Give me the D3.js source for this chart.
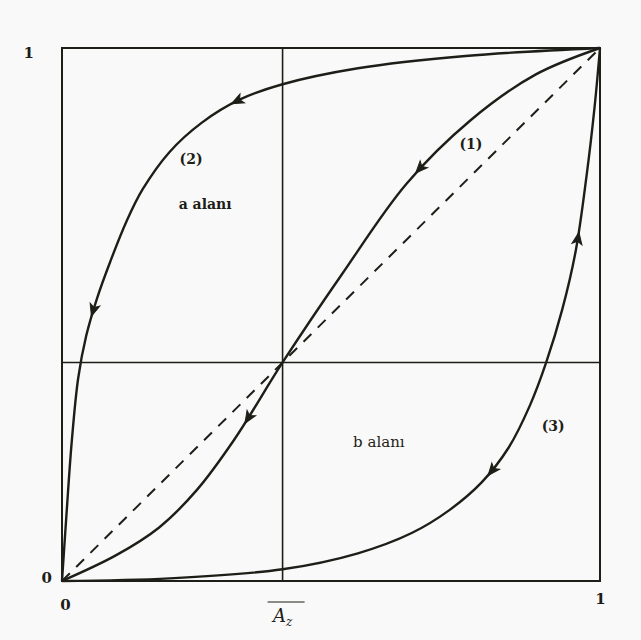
<!DOCTYPE html>
<html>
<head>
<meta charset="utf-8">
<script src="https://cdn.jsdelivr.net/npm/d3@7"></script>
<style>
  html, body { margin: 0; padding: 0; background: #f9f9f9; }
  svg { display: block; }
</style>
</head>
<body>
<svg id="chart" width="641" height="640"></svg>
<script>
// Tick values on both axes and the threshold value A_z
const xTickValues = [0, 1];
const yTickValues = [0, 1];
const aZ = 0.41;

// Curve (1): S-shaped, through the threshold point
const curve1X = [0, 0.10, 0.18, 0.25, 0.32, 0.41, 0.52, 0.64, 0.76, 0.88, 1];
const curve1Y = [0, 0.048, 0.10, 0.17, 0.265, 0.41, 0.575, 0.745, 0.865, 0.95, 1];

// Curve (2): bulging towards the upper-left (a alanı)
const curve2X = [0, 0.008, 0.018, 0.03, 0.045, 0.065, 0.09, 0.12, 0.15, 0.20, 0.26, 0.33, 0.41, 0.55, 0.75, 1];
const curve2Y = [0, 0.12, 0.26, 0.38, 0.46, 0.53, 0.60, 0.675, 0.735, 0.805, 0.86, 0.903, 0.932, 0.962, 0.985, 1];

// Curve (3): bulging towards the lower-right (b alanı)
const curve3X = [0, 0.2, 0.41, 0.55, 0.65, 0.72, 0.78, 0.83, 0.87, 0.90, 0.93, 0.955, 0.975, 0.99, 1];
const curve3Y = [0, 0.005, 0.022, 0.052, 0.09, 0.133, 0.185, 0.25, 0.33, 0.41, 0.51, 0.62, 0.76, 0.89, 1];

// Arrowheads: which curve, the x where they sit, and the direction (towards the end or back to the origin)
const arrowCurve = [1, 1, 2, 2, 3, 3];
const arrowAtX   = [0.346, 0.665, 0.058, 0.325, 0.799, 0.959];
const arrowDir   = ["back", "back", "back", "back", "back", "forward"];

// Text inside the plot
const noteText = ["(2)", "a alanı", "(1)", "b alanı", "(3)"];
const noteX    = [0.24, 0.266, 0.76, 0.589, 0.913];
const noteY    = [0.79, 0.705, 0.818, 0.259, 0.289];
const noteBold = [true, true, true, false, true];

(function draw() {
  const svg = d3.select("#chart");
  const mLeft = 62, mRight = 600, mTop = 48, mBottom = 581;
  const ink = "#1e1e18";
  const serif = "DejaVu Serif, Liberation Serif, serif";

  const x = d3.scaleLinear().domain([0, 1]).range([mLeft, mRight]);
  const y = d3.scaleLinear().domain([0, 1]).range([mBottom, mTop]);

  // Frame
  svg.append("rect")
    .attr("x", x(0)).attr("y", y(1))
    .attr("width", x(1) - x(0)).attr("height", y(0) - y(1))
    .attr("fill", "none").attr("stroke", ink).attr("stroke-width", 2);

  // Threshold cross-lines
  svg.append("line")
    .attr("x1", x(aZ)).attr("x2", x(aZ)).attr("y1", y(0)).attr("y2", y(1))
    .attr("stroke", ink).attr("stroke-width", 1.6);
  svg.append("line")
    .attr("x1", x(0)).attr("x2", x(1)).attr("y1", y(aZ)).attr("y2", y(aZ))
    .attr("stroke", ink).attr("stroke-width", 1.6);

  // Dashed diagonal
  svg.append("line")
    .attr("x1", x(0)).attr("y1", y(0)).attr("x2", x(1)).attr("y2", y(1))
    .attr("stroke", ink).attr("stroke-width", 2)
    .attr("stroke-dasharray", "11,9");

  // Curves
  const line = d3.line().x(d => x(d[0])).y(d => y(d[1])).curve(d3.curveCatmullRom.alpha(0.5));
  const curves = {
    1: d3.zip(curve1X, curve1Y),
    2: d3.zip(curve2X, curve2Y),
    3: d3.zip(curve3X, curve3Y)
  };
  const paths = {};
  [1, 2, 3].forEach(k => {
    paths[k] = svg.append("path")
      .datum(curves[k])
      .attr("d", line)
      .attr("fill", "none")
      .attr("stroke", ink)
      .attr("stroke-width", 2.4)
      .attr("stroke-linejoin", "round")
      .node();
  });

  // Arrowheads placed on the curves
  arrowCurve.forEach((k, i) => {
    const p = paths[k];
    const total = p.getTotalLength();
    const targetX = x(arrowAtX[i]);
    let lo = 0, hi = total;
    for (let it = 0; it < 40; it++) {
      const mid = (lo + hi) / 2;
      if (p.getPointAtLength(mid).x < targetX) lo = mid; else hi = mid;
    }
    const L = (lo + hi) / 2;
    const a = p.getPointAtLength(Math.max(0, L - 2));
    const b = p.getPointAtLength(Math.min(total, L + 2));
    let ang = Math.atan2(b.y - a.y, b.x - a.x) * 180 / Math.PI;
    if (arrowDir[i] === "back") ang += 180;
    const c = p.getPointAtLength(L);
    svg.append("path")
      .attr("d", "M6,0 L-6,-5 L-3,0 L-6,5 Z")
      .attr("transform", `translate(${c.x},${c.y}) rotate(${ang})`)
      .attr("fill", ink).attr("stroke", ink).attr("stroke-width", 1);
  });

  // Axes: ticks 0 and 1, no tick marks
  const xAxis = svg.append("g")
    .attr("transform", `translate(0,${mBottom})`)
    .call(d3.axisBottom(x).tickValues(xTickValues).tickSize(0).tickPadding(18).tickFormat(d3.format("d")));
  xAxis.select(".domain").remove();
  xAxis.selectAll("text")
    .attr("font-size", 15).attr("font-weight", "bold")
    .attr("font-family", serif).attr("fill", ink)
    .attr("dx", d => d === 0 ? 3 : 0)
    .attr("dy", d => d === 1 ? "0.3em" : "0.71em");

  const yAxis = svg.append("g")
    .attr("transform", `translate(${mLeft},0)`)
    .call(d3.axisLeft(y).tickValues(yTickValues).tickSize(0).tickPadding(10).tickFormat(d3.format("d")));
  yAxis.select(".domain").remove();
  yAxis.selectAll("text")
    .attr("font-size", 15).attr("font-weight", "bold")
    .attr("font-family", serif).attr("fill", ink)
    .attr("dx", d => d === 1 ? -18 : 0)
    .attr("dy", d => d === 1 ? "0.6em" : "0.1em");

  // A_z label with overline under the threshold line
  const azLabel = svg.append("text")
    .attr("x", x(aZ)).attr("y", 622)
    .attr("text-anchor", "middle")
    .attr("font-family", serif).attr("fill", ink)
    .attr("font-size", 18).attr("font-style", "italic");
  azLabel.append("tspan").text("A");
  azLabel.append("tspan").attr("font-size", 12).attr("dy", 4).text("z");
  svg.append("line")
    .attr("x1", x(aZ) - 15).attr("x2", x(aZ) + 22)
    .attr("y1", 602).attr("y2", 602)
    .attr("stroke", ink).attr("stroke-width", 1.2);

  // Notes inside the plot
  noteText.forEach((t, i) => {
    svg.append("text")
      .attr("x", x(noteX[i])).attr("y", y(noteY[i]))
      .attr("text-anchor", "middle").attr("dominant-baseline", "middle")
      .attr("font-family", serif).attr("fill", ink)
      .attr("font-size", noteBold[i] ? 14 : 15)
      .attr("font-weight", noteBold[i] ? "bold" : "normal")
      .text(t);
  });
})();
</script>
</body>
</html>
